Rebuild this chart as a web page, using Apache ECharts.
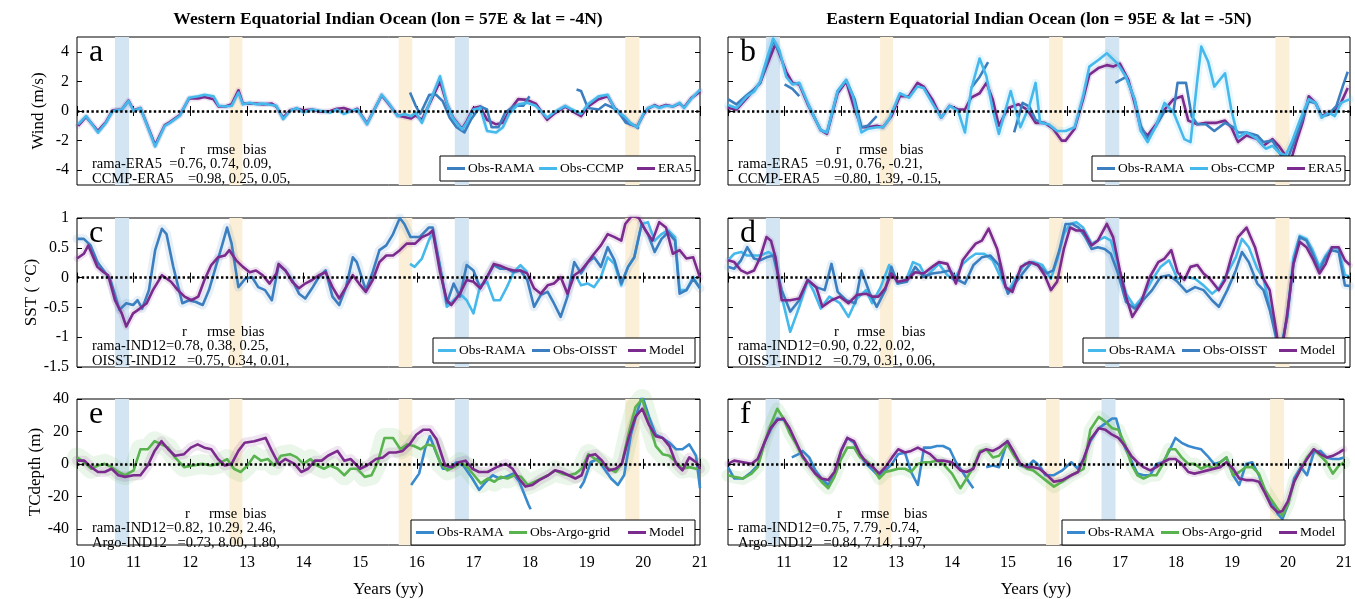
<!DOCTYPE html>
<html><head><meta charset="utf-8">
<script src="https://cdn.jsdelivr.net/npm/echarts@6/dist/echarts.min.js"></script>
<style>html,body{margin:0;padding:0;background:#fff}#c{width:1355px;height:599px}</style>
</head><body><div id="c"></div>
<script>
// ---------------- DATA (year, value) ----------------
const yearTicks = [10,11,12,13,14,15,16,17,18,19,20,21];
const windTicks = [-4,-2,0,2,4];
const sstTicks = [-1.5,-1,-0.5,0,0.5,1];
const tcTicks = [-40,-20,0,20,40];
const blueBands = [[10.67,10.92],[16.67,16.92]];
const orangeBands = [[12.69,12.92],[15.68,15.92],[19.68,19.93]];

// Panel a: Western wind
const windW_CCMP = [[10.02,-0.9],[10.16,-0.34],[10.37,-1.46],[10.51,-0.8],[10.63,0],[10.79,0.1],[10.91,0.67],[11.0,0.0],[11.12,0.2],[11.38,-2.4],[11.55,-1.0],[11.64,-0.8],[11.82,-0.3],[11.98,0.9],[12.14,1.0],[12.25,1.1],[12.41,1.0],[12.5,0.35],[12.62,0.3],[12.73,0.35],[12.85,1.25],[12.93,0.45],[13.05,0.55],[13.17,0.45],[13.28,0.5],[13.44,0.4],[13.52,0.35],[13.64,-0.55],[13.76,0],[13.88,0.2],[14.0,-0.1],[14.15,0.1],[14.31,0],[14.47,-0.1],[14.59,0.1],[14.71,-0.2],[14.87,0.05],[14.95,0.1],[15.12,-0.9],[15.38,1.1],[15.5,0.55],[15.66,-0.35],[15.78,-0.2],[15.9,-0.35],[15.98,-0.1],[16.09,-0.8],[16.25,0.8],[16.41,2.35],[16.53,0.55],[16.65,-0.55],[16.8,-1.25],[16.88,-0.8],[17.0,0.1],[17.12,0.2],[17.24,-1.35],[17.4,-1.45],[17.52,-1.1],[17.63,-0.2],[17.79,0.45],[17.95,0.55],[18.1,0.35],[18.3,-0.45],[18.42,-0.1],[18.62,0.35],[18.74,0.1],[18.9,-0.2],[19.02,0.45],[19.21,1.0],[19.37,1.1],[19.5,0.1],[19.66,-0.35],[19.77,-0.8],[19.89,-1.1],[20.0,-0.2],[20.08,0.2],[20.2,0.35],[20.28,0.2],[20.4,0.35],[20.52,0.3],[20.64,0.55],[20.72,0.2],[20.84,0.8],[21.0,1.45]];
const windW_ERA5 = [[10.02,-1.0],[10.16,-0.4],[10.37,-1.35],[10.51,-0.75],[10.63,0.05],[10.79,0.1],[10.91,0.7],[11.0,0.05],[11.12,0.2],[11.38,-2.3],[11.55,-0.95],[11.64,-0.75],[11.82,-0.25],[11.98,0.85],[12.14,0.85],[12.25,0.95],[12.41,0.8],[12.5,0.3],[12.62,0.3],[12.73,0.45],[12.85,1.4],[12.93,0.5],[13.05,0.5],[13.17,0.5],[13.28,0.45],[13.44,0.5],[13.52,0.3],[13.64,-0.45],[13.76,0.05],[13.88,0.15],[14.0,0.05],[14.15,0.1],[14.31,-0.05],[14.47,0.0],[14.59,0.15],[14.71,0.2],[14.87,0.0],[14.95,0.15],[15.12,-0.85],[15.38,1.05],[15.5,0.5],[15.66,-0.3],[15.78,-0.4],[15.9,-0.5],[15.98,-0.3],[16.09,-0.6],[16.25,0.7],[16.41,2.0],[16.53,0.5],[16.65,-0.5],[16.8,-1.2],[16.88,-0.7],[17.0,0.2],[17.12,0.3],[17.24,-0.6],[17.4,-0.9],[17.52,-0.8],[17.63,0.0],[17.79,0.8],[17.95,0.75],[18.1,0.5],[18.3,-0.6],[18.42,-0.2],[18.62,0.3],[18.74,0.0],[18.9,-0.35],[19.02,0.3],[19.21,0.8],[19.37,1.0],[19.5,0.15],[19.66,-0.4],[19.77,-0.9],[19.89,-1.05],[20.0,-0.25],[20.08,0.15],[20.2,0.4],[20.28,0.25],[20.4,0.4],[20.52,0.3],[20.64,0.5],[20.72,0.25],[20.84,0.85],[21.0,1.3]];
const windW_RAMA = [
 [[15.88,1.25],[15.98,0.35],[16.06,-0.2],[16.22,1.1],[16.34,1.1],[16.46,0.65],[16.58,-0.45],[16.7,-1.1],[16.84,-1.45],[16.96,-0.55],[17.12,0.3],[17.24,0.1],[17.32,-1.1],[17.44,-1.1],[17.56,-0.1],[17.72,0.35],[17.88,0.35],[17.99,1.0]],
 [[18.82,1.45],[18.9,1.35],[19.02,0.2],[19.21,0.1],[19.33,0.45],[19.53,0.1],[19.69,-0.8],[19.85,-1.0],[19.92,-1.2]]
];

// Panel b: Eastern wind
const windE_CCMP = [[10.0,0.4],[10.15,0.2],[10.34,1.0],[10.46,1.3],[10.57,2.0],[10.68,3.45],[10.8,4.9],[10.91,4.1],[11.03,2.3],[11.14,1.8],[11.26,1.9],[11.41,0.55],[11.52,-0.35],[11.64,-1.3],[11.75,-1.45],[11.94,1.35],[12.09,2.1],[12.21,1.0],[12.36,-1.45],[12.47,-1.2],[12.63,-1.1],[12.74,-1.1],[12.85,-0.55],[13.04,1.2],[13.2,0.9],[13.35,1.65],[13.46,1.55],[13.61,0.55],[13.77,-0.45],[13.92,0.35],[14.07,0.0],[14.19,-1.45],[14.3,1.45],[14.45,3.55],[14.57,2.35],[14.68,0.1],[14.79,-1.55],[15.0,1.35],[15.17,-1.1],[15.33,0.35],[15.44,1.9],[15.52,-0.8],[15.67,-0.9],[15.82,-1.35],[15.97,-1.35],[16.13,-1.1],[16.28,1.0],[16.39,3.0],[16.55,3.45],[16.7,3.9],[16.89,3.2],[17.04,2.3],[17.19,0.8],[17.3,-1.35],[17.42,-2.1],[17.57,-1.0],[17.72,0.55],[17.88,-0.1],[18.07,-1.9],[18.18,-2.1],[18.3,2.1],[18.37,4.35],[18.49,3.35],[18.6,1.65],[18.79,2.55],[18.9,0.1],[19.02,-1.8],[19.17,-1.45],[19.36,-1.9],[19.51,-2.55],[19.63,-2.35],[19.74,-2.8],[19.86,-3.0],[19.97,-2.1],[20.12,-0.55],[20.27,0.8],[20.39,0.55],[20.5,-0.45],[20.62,-0.1],[20.73,-0.35],[20.84,0.55],[21.0,0.8]];
const windE_ERA5 = [[10.0,0.2],[10.15,0.1],[10.34,0.9],[10.57,1.9],[10.68,3.0],[10.84,4.55],[10.95,3.45],[11.03,2.65],[11.14,1.9],[11.26,1.8],[11.41,0.45],[11.64,-1.3],[11.75,-1.55],[11.94,1.2],[12.09,2.0],[12.24,0.1],[12.36,-1.1],[12.47,-1.1],[12.63,-1.0],[12.74,-1.1],[12.89,-0.35],[13.04,1.0],[13.2,1.0],[13.35,1.9],[13.46,1.65],[13.61,0.8],[13.77,-0.45],[13.92,0.35],[14.07,0.1],[14.19,0.1],[14.3,0.9],[14.45,1.2],[14.57,1.9],[14.68,0.8],[14.79,-1.0],[14.95,0.2],[15.14,0.45],[15.29,0.1],[15.44,-0.8],[15.6,-0.8],[15.75,-1.2],[15.9,-2.0],[15.97,-2.0],[16.13,-1.2],[16.28,0.8],[16.39,2.45],[16.55,2.9],[16.7,3.1],[16.81,3.0],[16.93,3.2],[17.08,2.1],[17.19,0.55],[17.3,-1.2],[17.42,-1.65],[17.57,-0.9],[17.72,0.1],[17.88,0.8],[18.03,1.0],[18.14,-0.65],[18.3,-0.9],[18.45,-0.8],[18.64,-0.8],[18.79,-0.65],[18.9,-1.1],[19.02,-2.1],[19.17,-1.65],[19.36,-1.9],[19.47,-2.35],[19.63,-1.9],[19.74,-2.35],[19.86,-3.0],[19.93,-3.65],[20.05,-2.1],[20.16,-0.8],[20.27,1.0],[20.39,0.55],[20.5,-0.35],[20.62,-0.1],[20.73,0.0],[20.84,0.55],[20.96,1.55]];
const windE_RAMA = [
 [[10.0,0.8],[10.15,0.45],[10.34,1.1],[10.46,1.45],[10.57,1.9],[10.68,3.2],[10.8,4.8],[10.91,3.9]],
 [[11.0,1.8],[11.14,1.5],[11.26,1.0]],
 [[11.41,0.5],[11.64,-1.3],[11.75,-1.45],[11.94,1.35],[12.09,2.1],[12.24,0.8],[12.36,-1.1],[12.47,-1.0],[12.63,-0.35]],
 [[14.3,1.55],[14.45,2.3],[14.6,3.3]],
 [[15.06,-1.45],[15.21,0.55],[15.33,0.3],[15.44,-0.6],[15.6,-0.85]],
 [[16.85,1.9],[17.04,2.3],[17.19,0.8],[17.3,-1.0],[17.42,-1.9],[17.57,-1.0],[17.72,0.0],[17.88,0.0],[17.95,1.9],[18.1,1.9],[18.2,-0.35],[18.3,-0.9],[18.45,-0.9],[18.6,-1.35],[18.79,-0.8],[18.94,-1.1],[19.02,-1.45],[19.17,-1.45],[19.36,-1.65],[19.47,-2.1],[19.63,-2.0],[19.78,-3.0],[19.9,-3.2],[20.01,-2.1],[20.16,-0.55],[20.27,0.65],[20.39,0.55],[20.5,-0.35],[20.62,-0.25],[20.76,0.35],[20.87,1.65],[20.96,2.65]]
];

// Panel c: Western SST
const sstW_OISST = [[10.0,0.65],[10.12,0.65],[10.24,0.54],[10.36,0.26],[10.47,0.12],[10.59,-0.04],[10.75,-0.54],[10.87,-0.43],[10.99,-0.46],[11.07,-0.38],[11.15,-0.52],[11.27,-0.21],[11.38,0.46],[11.5,0.82],[11.58,0.73],[11.7,0.18],[11.86,-0.43],[11.98,-0.38],[12.1,-0.41],[12.22,-0.46],[12.33,-0.21],[12.45,0.18],[12.57,0.57],[12.65,0.84],[12.73,0.57],[12.85,-0.16],[12.97,-0.02],[13.09,0.01],[13.2,-0.16],[13.32,-0.21],[13.44,-0.38],[13.56,0.21],[13.68,0.12],[13.8,-0.04],[13.92,-0.27],[14.03,-0.35],[14.15,-0.18],[14.27,0.01],[14.39,0.12],[14.51,-0.32],[14.63,-0.46],[14.75,-0.16],[14.87,0.34],[14.94,0.26],[15.1,-0.21],[15.22,0.09],[15.34,0.46],[15.46,0.54],[15.58,0.73],[15.7,1.0],[15.78,0.9],[15.89,0.68],[16.05,0.68],[16.21,0.84],[16.28,0.84],[16.41,0.18],[16.53,-0.43],[16.65,-0.1],[16.76,-0.32],[16.88,0.21],[17.0,0.12],[17.12,-0.18],[17.24,0.01],[17.36,0.21],[17.47,0.15],[17.59,0.15],[17.71,0.09],[17.83,0.12],[17.95,-0.04],[18.07,-0.49],[18.19,-0.29],[18.31,-0.24],[18.42,-0.43],[18.54,-0.66],[18.66,-0.32],[18.78,0.26],[18.9,0.07],[19.02,0.26],[19.13,0.34],[19.25,0.18],[19.37,0.51],[19.49,0.29],[19.61,-0.1],[19.73,0.18],[19.84,0.34],[19.97,0.9],[20.08,0.73],[20.2,0.43],[20.32,0.65],[20.44,0.76],[20.56,0.62],[20.64,-0.27],[20.76,-0.21],[20.88,-0.02],[21.0,-0.18]];
const sstW_Model = [[10.0,0.32],[10.12,0.4],[10.2,0.54],[10.36,0.18],[10.47,0.09],[10.55,0.04],[10.67,-0.38],[10.79,-0.6],[10.87,-0.82],[10.99,-0.6],[11.11,-0.52],[11.23,-0.43],[11.34,-0.21],[11.5,0.04],[11.66,-0.07],[11.78,-0.21],[11.9,-0.32],[12.02,-0.38],[12.14,-0.32],[12.25,-0.04],[12.37,0.21],[12.49,0.34],[12.61,0.37],[12.69,0.46],[12.81,0.29],[12.93,0.18],[13.05,0.09],[13.16,0.12],[13.28,0.04],[13.4,-0.1],[13.52,0.07],[13.56,0.23],[13.68,0.12],[13.8,-0.07],[13.92,-0.18],[14.03,-0.1],[14.15,-0.04],[14.27,0.04],[14.39,0.09],[14.51,-0.16],[14.63,-0.35],[14.75,-0.16],[14.87,0.04],[14.98,-0.1],[15.1,-0.24],[15.22,-0.04],[15.34,0.26],[15.46,0.37],[15.58,0.37],[15.7,0.46],[15.82,0.57],[15.97,0.57],[16.09,0.68],[16.21,0.73],[16.28,0.79],[16.41,0.09],[16.53,-0.38],[16.61,-0.46],[16.76,-0.27],[16.88,-0.04],[17.0,-0.07],[17.12,-0.18],[17.24,0.01],[17.36,0.23],[17.47,0.2],[17.59,0.15],[17.71,0.12],[17.83,0.12],[17.95,0.07],[18.07,-0.18],[18.19,-0.27],[18.31,-0.13],[18.42,-0.1],[18.54,0.01],[18.66,-0.27],[18.78,0.04],[18.9,0.12],[19.02,0.26],[19.13,0.4],[19.25,0.54],[19.37,0.73],[19.49,0.68],[19.61,0.62],[19.68,0.9],[19.8,1.04],[19.92,1.0],[20.04,0.79],[20.16,0.62],[20.28,0.93],[20.4,0.84],[20.52,0.4],[20.64,0.46],[20.76,0.32],[20.88,0.34],[21.0,0.0]];
const sstW_RAMA = [
 [[15.88,0.23],[15.96,0.18],[16.09,0.32],[16.21,0.62],[16.28,0.76],[16.41,0.18],[16.53,-0.49],[16.65,-0.38],[16.76,-0.27],[16.88,-0.38],[17.0,-0.6],[17.12,-0.13],[17.24,-0.07],[17.36,-0.38],[17.47,-0.38],[17.59,-0.16],[17.71,0.09],[17.83,0.21],[17.95,0.09]],
 [[18.82,0.01],[18.9,-0.13],[19.02,-0.1],[19.13,-0.16],[19.25,0.01],[19.37,0.34],[19.49,0.23],[19.61,-0.13],[19.73,0.18],[19.84,0.34],[19.97,0.9],[20.08,0.93],[20.2,0.62],[20.32,0.73],[20.44,0.79],[20.56,0.68],[20.64,-0.21],[20.76,-0.21],[20.88,0.01],[21.0,-0.18]]
];

// Panel d: Eastern SST
const sstE_RAMA = [[10.0,0.29],[10.11,0.4],[10.23,0.43],[10.34,0.37],[10.46,0.37],[10.57,0.37],[10.72,0.43],[10.84,0.34],[10.95,-0.32],[11.1,-0.91],[11.26,-0.49],[11.41,-0.04],[11.52,-0.24],[11.64,-0.52],[11.79,-0.32],[11.98,-0.43],[12.13,-0.66],[12.28,-0.35],[12.44,-0.21],[12.55,-0.43],[12.7,-0.16],[12.85,0.21],[13.0,-0.1],[13.16,-0.02],[13.27,0.26],[13.39,0.21],[13.5,0.01],[13.61,0.12],[13.73,0.23],[13.88,0.04],[14.0,-0.04],[14.15,0.23],[14.26,0.32],[14.38,0.4],[14.53,0.4],[14.68,0.29],[14.79,0.07],[14.95,-0.24],[15.1,0.01],[15.25,0.23],[15.4,0.26],[15.56,0.21],[15.71,-0.02],[15.82,0.29],[15.94,0.73],[16.05,0.9],[16.16,0.93],[16.28,0.84],[16.43,0.57],[16.54,0.62],[16.66,0.68],[16.77,0.62],[16.89,0.23],[17.04,-0.27],[17.19,-0.49],[17.34,-0.32],[17.5,-0.04],[17.65,0.18],[17.8,0.29],[17.95,-0.02],[18.11,0.01],[18.26,-0.02],[18.41,-0.13],[18.56,-0.27],[18.68,-0.18],[18.83,0.07],[18.98,0.34],[19.09,0.65],[19.21,0.51],[19.36,0.15],[19.47,-0.02],[19.58,-0.49],[19.7,-0.99],[19.77,-1.21],[19.89,-0.66],[20.0,0.34],[20.11,0.7],[20.23,0.65],[20.34,0.46],[20.46,0.18],[20.57,0.37],[20.68,0.51],[20.8,0.48],[20.91,0.04],[21.0,0.02]];
const sstE_OISST = [[10.0,0.18],[10.11,0.15],[10.23,0.29],[10.34,0.51],[10.46,0.32],[10.57,0.29],[10.68,0.34],[10.8,0.37],[10.95,-0.21],[11.1,-0.57],[11.26,-0.38],[11.41,-0.04],[11.56,-0.16],[11.71,-0.21],[11.83,0.23],[11.94,-0.24],[12.09,-0.38],[12.25,-0.43],[12.36,0.12],[12.51,-0.27],[12.63,-0.49],[12.78,-0.21],[12.89,0.18],[13.0,-0.1],[13.16,-0.07],[13.31,0.18],[13.46,0.01],[13.61,0.07],[13.77,0.09],[13.92,0.12],[14.07,-0.04],[14.19,-0.1],[14.34,0.21],[14.49,0.34],[14.64,0.37],[14.79,0.21],[14.95,-0.27],[15.1,-0.07],[15.21,0.07],[15.37,0.26],[15.52,0.18],[15.64,0.07],[15.75,0.12],[15.86,0.46],[15.97,0.9],[16.09,0.9],[16.2,0.84],[16.32,0.68],[16.43,0.48],[16.54,0.51],[16.66,0.48],[16.77,0.4],[16.89,0.09],[17.04,-0.41],[17.19,-0.52],[17.34,-0.38],[17.5,-0.21],[17.65,0.01],[17.8,0.04],[17.95,-0.07],[18.11,-0.24],[18.26,-0.16],[18.41,-0.21],[18.56,-0.38],[18.68,-0.49],[18.83,-0.21],[18.98,0.12],[19.09,0.43],[19.21,0.26],[19.36,-0.1],[19.47,-0.21],[19.58,-0.54],[19.7,-1.04],[19.77,-1.27],[19.89,-0.66],[20.0,0.23],[20.11,0.68],[20.23,0.62],[20.34,0.4],[20.46,0.12],[20.57,0.34],[20.68,0.46],[20.8,0.43],[20.91,-0.13],[21.0,-0.14]];
const sstE_Model = [[10.0,0.29],[10.11,0.26],[10.23,0.12],[10.34,0.07],[10.46,0.12],[10.57,0.34],[10.68,0.68],[10.76,0.62],[10.84,0.34],[10.95,-0.38],[11.1,-0.38],[11.26,-0.35],[11.41,-0.04],[11.56,-0.16],[11.67,-0.49],[11.83,-0.38],[11.98,-0.32],[12.13,-0.43],[12.28,-0.29],[12.44,-0.27],[12.55,-0.32],[12.66,-0.32],[12.78,-0.18],[12.89,0.07],[13.0,-0.07],[13.16,-0.04],[13.31,0.09],[13.46,0.07],[13.61,0.18],[13.73,0.26],[13.88,0.23],[14.03,-0.1],[14.15,0.29],[14.26,0.43],[14.38,0.57],[14.49,0.62],[14.61,0.82],[14.76,0.48],[14.91,-0.16],[15.03,-0.24],[15.18,0.18],[15.33,0.26],[15.48,0.21],[15.6,0.04],[15.71,-0.21],[15.82,-0.07],[15.94,0.48],[16.05,0.84],[16.16,0.79],[16.28,0.79],[16.43,0.54],[16.54,0.62],[16.7,0.9],[16.81,0.68],[16.93,0.12],[17.04,-0.32],[17.15,-0.66],[17.3,-0.43],[17.46,0.01],[17.61,0.26],[17.72,0.32],[17.84,0.46],[17.95,0.09],[18.07,-0.04],[18.18,0.18],[18.3,0.21],[18.41,0.07],[18.52,-0.02],[18.68,-0.21],[18.79,-0.04],[18.9,0.34],[19.02,0.68],[19.17,0.84],[19.32,0.51],[19.47,-0.02],[19.58,-0.21],[19.7,-0.93],[19.77,-1.38],[19.89,-0.6],[20.0,0.23],[20.11,0.6],[20.23,0.51],[20.34,0.32],[20.46,0.07],[20.57,0.23],[20.68,0.51],[20.8,0.51],[20.91,0.29],[21.0,0.21]];

// Panel e: Western thermocline depth
const tcW_Argo = [[10.0,4],[10.13,1],[10.25,-3],[10.37,-1],[10.49,0],[10.61,-2],[10.73,-5],[10.85,-7],[11.0,-4],[11.12,9],[11.25,9],[11.37,14],[11.49,12],[11.61,10],[11.73,4],[11.89,-2],[12.05,-1],[12.21,0],[12.37,-1],[12.49,0],[12.65,3],[12.77,-3],[12.89,-5],[13.01,-1],[13.13,5],[13.25,2],[13.37,3],[13.48,-1],[13.6,5],[13.76,6],[13.88,4],[14.0,0],[14.12,3],[14.24,-1],[14.36,-3],[14.47,-1],[14.6,-3],[14.72,-7],[14.83,-3],[14.95,-3],[15.08,-8],[15.2,-7],[15.31,1],[15.43,16],[15.58,16],[15.71,9],[15.83,12],[15.95,11],[16.07,9],[16.19,12],[16.3,11],[16.42,0],[16.54,-4],[16.66,-2],[16.77,1],[16.89,-2],[17.01,-7],[17.13,-12],[17.25,-9],[17.37,-11],[17.48,-8],[17.6,-9],[17.72,-7],[17.84,-8],[17.96,-13],[18.08,-11],[18.2,-9],[18.32,-7],[18.44,-4],[18.56,-6],[18.68,-7],[18.8,-6],[18.91,-3],[19.03,6],[19.15,3],[19.27,0],[19.39,-3],[19.51,-5],[19.62,0],[19.74,19],[19.86,35],[19.98,40],[20.1,25],[20.22,11],[20.34,6],[20.46,5],[20.58,1],[20.69,-3],[20.81,-2],[20.93,-3],[21.0,-2]];
const tcW_Model = [[10.0,2],[10.13,2],[10.25,-2],[10.37,-5],[10.49,-5],[10.61,-3],[10.73,-7],[10.85,-8],[11.0,-7],[11.12,-7],[11.25,-1],[11.37,8],[11.49,14],[11.61,9],[11.73,5],[11.89,6],[12.01,10],[12.13,12],[12.25,10],[12.37,9],[12.49,3],[12.61,-1],[12.73,0],[12.85,8],[12.96,13],[13.13,14],[13.33,16],[13.44,8],[13.56,0],[13.68,3],[13.84,0],[13.96,-5],[14.08,-3],[14.2,2],[14.32,2],[14.43,5],[14.6,8],[14.72,2],[14.83,3],[15.0,-3],[15.12,-1],[15.28,3],[15.4,4],[15.51,7],[15.63,7],[15.75,8],[15.87,12],[15.99,18],[16.11,21],[16.23,21],[16.35,15],[16.5,-1],[16.62,-2],[16.74,1],[16.86,2],[16.98,-3],[17.1,-5],[17.25,-5],[17.41,-2],[17.57,0],[17.69,-3],[17.8,-9],[17.92,-14],[18.04,-13],[18.16,-10],[18.32,-7],[18.44,-4],[18.56,-5],[18.68,-7],[18.8,-9],[18.91,-7],[19.03,5],[19.15,6],[19.27,2],[19.39,-4],[19.51,-3],[19.62,0],[19.74,16],[19.86,29],[19.98,34],[20.1,24],[20.22,17],[20.34,16],[20.46,11],[20.58,0],[20.69,-4],[20.81,4],[20.93,1],[21.0,-3]];
const tcW_RAMA = [
 [[15.9,-13],[16.04,-6],[16.15,10],[16.23,17],[16.34,7],[16.46,-3],[16.58,-3],[16.7,1],[16.82,-1],[16.98,-9],[17.1,-16],[17.22,-11],[17.34,-7],[17.46,-9],[17.57,-8],[17.7,-6],[17.81,-11],[17.97,-25],[18.01,-28]],
 [[18.88,-15],[18.95,-11],[19.07,1],[19.19,3],[19.31,-3],[19.43,-9],[19.55,-13],[19.66,-7],[19.78,18],[19.9,33],[19.98,42],[20.1,29],[20.22,18],[20.34,16],[20.46,13],[20.58,9],[20.69,9],[20.81,12],[20.93,5],[21.0,-15]]
];

// Panel f: Eastern thermocline depth
const tcE_Argo = [[10.0,-7],[10.11,-8],[10.27,-9],[10.42,-6],[10.53,-2],[10.65,13],[10.76,24],[10.88,34],[10.99,28],[11.1,19],[11.22,12],[11.33,4],[11.45,-1],[11.56,-6],[11.67,-11],[11.79,-15],[11.9,-8],[12.02,3],[12.13,10],[12.25,10],[12.36,4],[12.47,2],[12.59,-2],[12.7,-9],[12.81,-5],[12.93,-4],[13.04,-3],[13.16,-3],[13.27,-5],[13.39,0],[13.5,1],[13.61,1],[13.73,2],[13.84,0],[14.0,-6],[14.15,-15],[14.26,-9],[14.38,-2],[14.5,8],[14.61,9],[14.73,4],[14.84,5],[14.99,12],[15.11,5],[15.22,0],[15.34,-3],[15.45,-4],[15.56,-7],[15.67,-10],[15.82,-14],[15.97,-11],[16.13,-7],[16.25,-5],[16.35,-3],[16.47,21],[16.62,29],[16.74,26],[16.86,22],[16.97,21],[17.09,12],[17.2,0],[17.31,-7],[17.42,-9],[17.54,-7],[17.65,-7],[17.77,0],[17.88,9],[17.99,9],[18.1,4],[18.22,0],[18.33,0],[18.45,-3],[18.56,-1],[18.68,-3],[18.79,1],[18.9,4],[19.02,-7],[19.13,-5],[19.25,-2],[19.36,-2],[19.48,-6],[19.59,-16],[19.7,-22],[19.82,-28],[19.9,-32],[20.0,-25],[20.11,-11],[20.23,-3],[20.34,4],[20.46,9],[20.58,5],[20.69,1],[20.8,-6],[20.91,-1],[21.0,1]];
const tcE_Model = [[10.0,0],[10.11,2],[10.27,1],[10.42,0],[10.53,3],[10.65,13],[10.76,22],[10.88,27],[10.99,28],[11.1,22],[11.22,13],[11.33,5],[11.45,-1],[11.56,-6],[11.67,-9],[11.79,-10],[11.9,-5],[12.02,8],[12.13,16],[12.25,14],[12.36,6],[12.47,1],[12.59,-2],[12.7,-6],[12.81,-2],[12.93,4],[13.04,9],[13.16,7],[13.27,8],[13.39,10],[13.5,8],[13.61,6],[13.73,2],[13.84,2],[14.0,1],[14.15,-4],[14.26,-5],[14.38,-3],[14.5,7],[14.61,9],[14.73,8],[14.84,10],[14.99,14],[15.11,7],[15.22,0],[15.34,-2],[15.45,-2],[15.56,-3],[15.67,-6],[15.82,-11],[15.97,-10],[16.13,-7],[16.25,-5],[16.35,3],[16.47,15],[16.62,22],[16.74,21],[16.86,18],[16.97,16],[17.09,11],[17.2,5],[17.31,1],[17.42,-2],[17.54,-4],[17.65,-2],[17.77,1],[17.88,3],[17.99,3],[18.1,0],[18.22,-5],[18.33,-6],[18.45,-5],[18.56,-4],[18.68,-3],[18.79,-2],[18.9,1],[19.02,-3],[19.13,-9],[19.25,-10],[19.36,-10],[19.48,-11],[19.59,-18],[19.7,-26],[19.82,-30],[19.9,-29],[20.0,-23],[20.11,-11],[20.23,-3],[20.34,3],[20.46,9],[20.58,6],[20.69,4],[20.8,5],[20.91,7],[21.0,9]];
const tcE_RAMA = [
 [[10.0,-2],[10.11,-9],[10.27,-9],[10.42,-5],[10.53,-1],[10.65,13],[10.76,21],[10.88,28],[10.99,27]],
 [[11.14,4],[11.26,6],[11.33,8],[11.45,4],[11.56,-4],[11.67,-9],[11.79,-13],[11.9,-7],[12.02,8],[12.13,16],[12.25,13],[12.36,5],[12.47,0],[12.59,-4],[12.7,-8],[12.81,-4],[12.93,0],[13.04,6],[13.16,7],[13.27,-5],[13.39,-13],[13.5,10],[13.61,10],[13.73,11],[13.84,11],[13.96,9],[14.07,1],[14.19,-5],[14.3,-11],[14.38,-15]],
 [[14.61,-2],[14.73,-1],[14.84,-2],[14.99,14],[15.11,6],[15.22,-1],[15.34,-2],[15.45,2],[15.56,-1],[15.67,-7],[15.82,-7],[15.97,-4],[16.13,1],[16.25,-3],[16.35,3],[16.47,14],[16.62,22],[16.74,25],[16.86,28],[16.93,28],[17.05,13],[17.2,2],[17.31,-6],[17.42,-7],[17.54,-7],[17.65,0],[17.77,1],[17.88,8],[17.99,16],[18.1,13],[18.22,11],[18.33,10],[18.45,9],[18.56,5],[18.68,0],[18.79,1],[18.9,4],[19.02,-7],[19.13,-13],[19.25,0],[19.36,1],[19.48,-7],[19.59,-17],[19.7,-23],[19.82,-31],[19.9,-34],[20.0,-25],[20.11,-9],[20.23,-2],[20.34,-7],[20.46,7],[20.58,8],[20.69,4],[20.8,3],[20.91,3],[21.0,4]]
];

// ---------------- STYLE ----------------
const FONT = 'Liberation Serif';
const STEEL = '#3b7fc0', CYAN = '#45b9ec', PURPLE = '#7b2a8d', BLUE = '#3989cf', GREEN = '#59b34f';
const BAND_BLUE = '#d3e5f2', BAND_ORANGE = '#fcefd7';

const grids = [
  {left:77, top:37, width:623, height:148},
  {left:728, top:37, width:622, height:148},
  {left:77, top:218, width:623, height:149},
  {left:728, top:218, width:622, height:149},
  {left:77, top:399, width:623, height:150},
  {left:728, top:399, width:622, height:150}
];
const rows = [
  {min:-5, max:5, ticks:windTicks, name:'Wind (m/s)'},
  {min:-1.5, max:1, ticks:sstTicks, name:'SST ( °C)'},
  {min:-50, max:40, ticks:tcTicks, name:'TCdepth (m)'}
];

const xAxis = [], yAxis = [], series = [];
grids.forEach((g, i) => {
  const row = rows[Math.floor(i/2)], isLeft = i % 2 === 0, isBottom = i >= 4;
  xAxis.push({gridIndex:i, type:'value', min:10, max:21, position:'bottom',
    axisLine:{show:false}, splitLine:{show:false},
    axisTick:{show:true, inside:true, length:5, customValues:yearTicks, lineStyle:{color:'#000'}},
    axisLabel:{show:isBottom, customValues: isLeft ? yearTicks : yearTicks.slice(1), margin:10,
      color:'#000', fontFamily:FONT, fontSize:16},
    name: isBottom ? 'Years (yy)' : '', nameLocation:'middle', nameGap:36,
    nameTextStyle:{color:'#000', fontFamily:FONT, fontSize:17}});
  xAxis.push({gridIndex:i, type:'value', min:10, max:21, position:'top',
    axisLine:{show:false}, splitLine:{show:false}, axisLabel:{show:false},
    axisTick:{show:true, inside:true, length:5, customValues:yearTicks, lineStyle:{color:'#000'}}});
  yAxis.push({gridIndex:i, type:'value', min:row.min, max:row.max, position:'left',
    axisLine:{show:false}, splitLine:{show:false},
    axisTick:{show:true, inside:true, length:5, customValues:row.ticks, lineStyle:{color:'#000'}},
    axisLabel:{show:isLeft, customValues:row.ticks, margin:8, color:'#000', fontFamily:FONT, fontSize:16},
    name: isLeft ? row.name : '', nameLocation:'middle', nameGap:30, nameRotate:90,
    nameTextStyle:{color:'#000', fontFamily:FONT, fontSize:17}});
  yAxis.push({gridIndex:i, type:'value', min:row.min, max:row.max, position:'right',
    axisLine:{show:false}, splitLine:{show:false}, axisLabel:{show:false},
    axisTick:{show:true, inside:true, length:5, customValues:row.ticks, lineStyle:{color:'#000'}}});
  // event bands
  series.push({type:'line', xAxisIndex:2*i, yAxisIndex:2*i, data:[], silent:true, z:0,
    markArea:{silent:true, data:[
      ...blueBands.map(b => [{xAxis:b[0], itemStyle:{color:BAND_BLUE}}, {xAxis:b[1]}]),
      ...orangeBands.map(b => [{xAxis:b[0], itemStyle:{color:BAND_ORANGE}}, {xAxis:b[1]}])
    ]}});
  // zero line
  series.push({type:'line', xAxisIndex:2*i, yAxisIndex:2*i, data:[], silent:true, z:10,
    markLine:{silent:true, symbol:'none', label:{show:false},
      lineStyle:{color:'#000', width:2.6, type:[2.4,2.4]}, data:[{yAxis:0}]}});
});

function addLine(gi, data, color, halo) {
  if (halo > 0) {
    series.push({type:'line', xAxisIndex:2*gi, yAxisIndex:2*gi, data:data, symbol:'none', silent:true,
      lineStyle:{color:color, width:halo, opacity:0.12, cap:'round', join:'round'}, z:1});
  }
  series.push({type:'line', xAxisIndex:2*gi, yAxisIndex:2*gi, data:data, symbol:'none', silent:true,
    lineStyle:{color:color, width:2.6, join:'round'}, z:3});
}
function addSegs(gi, segs, color, halo) { segs.forEach(s => addLine(gi, s, color, halo)); }

// a
addLine(0, windW_ERA5, PURPLE, 6); addSegs(0, windW_RAMA, STEEL, 0); addLine(0, windW_CCMP, CYAN, 5);
// b
addLine(1, windE_ERA5, PURPLE, 6); addSegs(1, windE_RAMA, STEEL, 0); addLine(1, windE_CCMP, CYAN, 8);
// c
addSegs(2, sstW_RAMA, CYAN, 0); addLine(2, sstW_OISST, STEEL, 9); addLine(2, sstW_Model, PURPLE, 7);
// d
addLine(3, sstE_RAMA, CYAN, 0); addLine(3, sstE_OISST, STEEL, 8); addLine(3, sstE_Model, PURPLE, 6);
// e
addSegs(4, tcW_RAMA, BLUE, 0); addLine(4, tcW_Argo, GREEN, 20); addLine(4, tcW_Model, PURPLE, 10);
// f
addSegs(5, tcE_RAMA, BLUE, 0); addLine(5, tcE_Argo, GREEN, 13); addLine(5, tcE_Model, PURPLE, 7);

// ---------------- TEXT / LEGENDS ----------------
const graphic = [];
function txt(x, y, s, size) {
  graphic.push({type:'text', x:x, y:y, z:100, silent:true,
    style:{text:s, fill:'#000', font:size + 'px "' + FONT + '"', align:'left', verticalAlign:'middle'}});
}
function ctxt(x, y, s, size, bold) {
  graphic.push({type:'text', x:x, y:y, z:100, silent:true,
    style:{text:s, fill:'#000', font:(bold?'bold ':'') + size + 'px "' + FONT + '"', align:'center', verticalAlign:'middle'}});
}
ctxt(388, 19, 'Western Equatorial Indian Ocean (lon = 57E & lat = -4N)', 17.5, true);
ctxt(1039, 19, 'Eastern Equatorial Indian Ocean (lon = 95E & lat = -5N)', 17.5, true);
const letters = ['a','b','c','d','e','f'];
grids.forEach((g, i) => txt(g.left + 12, g.top + 16, letters[i], 32));

const stats = [
  {g:0, hx:[180,207,243], lines:['rama-ERA5  =0.76, 0.74, 0.09,', 'CCMP-ERA5    =0.98, 0.25, 0.05,']},
  {g:1, hx:[836,859,900], lines:['rama-ERA5  =0.91, 0.76, -0.21,', 'CCMP-ERA5    =0.80, 1.39, -0.15,']},
  {g:2, hx:[182,207,241], lines:['rama-IND12=0.78, 0.38, 0.25,', 'OISST-IND12   =0.75, 0.34, 0.01,']},
  {g:3, hx:[834,857,902], lines:['rama-IND12=0.90, 0.22, 0.02,', 'OISST-IND12   =0.79, 0.31, 0.06,']},
  {g:4, hx:[185,209,243], lines:['rama-IND12=0.82, 10.29, 2.46,', 'Argo-IND12   =0.73, 8.00, 1.80,']},
  {g:5, hx:[837,861,904], lines:['rama-IND12=0.75, 7.79, -0.74,', 'Argo-IND12   =0.84, 7.14, 1.97,']}
];
stats.forEach(s => {
  const g = grids[s.g], x0 = g.left + (s.g % 2 === 0 ? 15 : 10), yb = g.top + g.height;
  txt(s.hx[0], yb - 35, 'r', 14.5); txt(s.hx[1], yb - 35, 'rmse', 14.5); txt(s.hx[2], yb - 35, 'bias', 14.5);
  txt(x0, yb - 20.5, s.lines[0], 14.5); txt(x0, yb - 6, s.lines[1], 14.5);
});

const legends = [
  {g:0, x0:440, items:[[447,'Obs-RAMA',STEEL],[539,'Obs-CCMP',CYAN],[637,'ERA5',PURPLE]]},
  {g:1, x0:1092, items:[[1097,'Obs-RAMA',STEEL],[1190,'Obs-CCMP',CYAN],[1287,'ERA5',PURPLE]]},
  {g:2, x0:433, items:[[438,'Obs-RAMA',CYAN],[532,'Obs-OISST',STEEL],[628,'Model',PURPLE]]},
  {g:3, x0:1083, items:[[1088,'Obs-RAMA',CYAN],[1182,'Obs-OISST',STEEL],[1279,'Model',PURPLE]]},
  {g:4, x0:411, items:[[416,'Obs-RAMA',BLUE],[509,'Obs-Argo-grid',GREEN],[628,'Model',PURPLE]]},
  {g:5, x0:1062, items:[[1067,'Obs-RAMA',BLUE],[1161,'Obs-Argo-grid',GREEN],[1279,'Model',PURPLE]]}
];
legends.forEach(L => {
  const g = grids[L.g], x1 = g.left + g.width - 5, y1 = g.top + g.height - 4, y0 = y1 - 25, ym = (y0 + y1) / 2;
  graphic.push({type:'rect', z:99, silent:true, shape:{x:L.x0, y:y0, width:x1 - L.x0, height:y1 - y0},
    style:{fill:'#fff', stroke:'#000', lineWidth:1}});
  L.items.forEach(it => {
    graphic.push({type:'line', z:100, silent:true, shape:{x1:it[0], y1:ym, x2:it[0] + 18, y2:ym},
      style:{stroke:it[2], lineWidth:3}});
    txt(it[0] + 21, ym, it[1], 13.5);
  });
});

const chart = echarts.init(document.getElementById('c'), null, {renderer:'canvas'});
chart.setOption({
  animation:false,
  backgroundColor:'#fff',
  grid: grids.map(g => Object.assign({show:true, borderColor:'#000', borderWidth:1, backgroundColor:'transparent'}, g)),
  xAxis: xAxis, yAxis: yAxis, series: series, graphic: graphic
});
</script></body></html>
